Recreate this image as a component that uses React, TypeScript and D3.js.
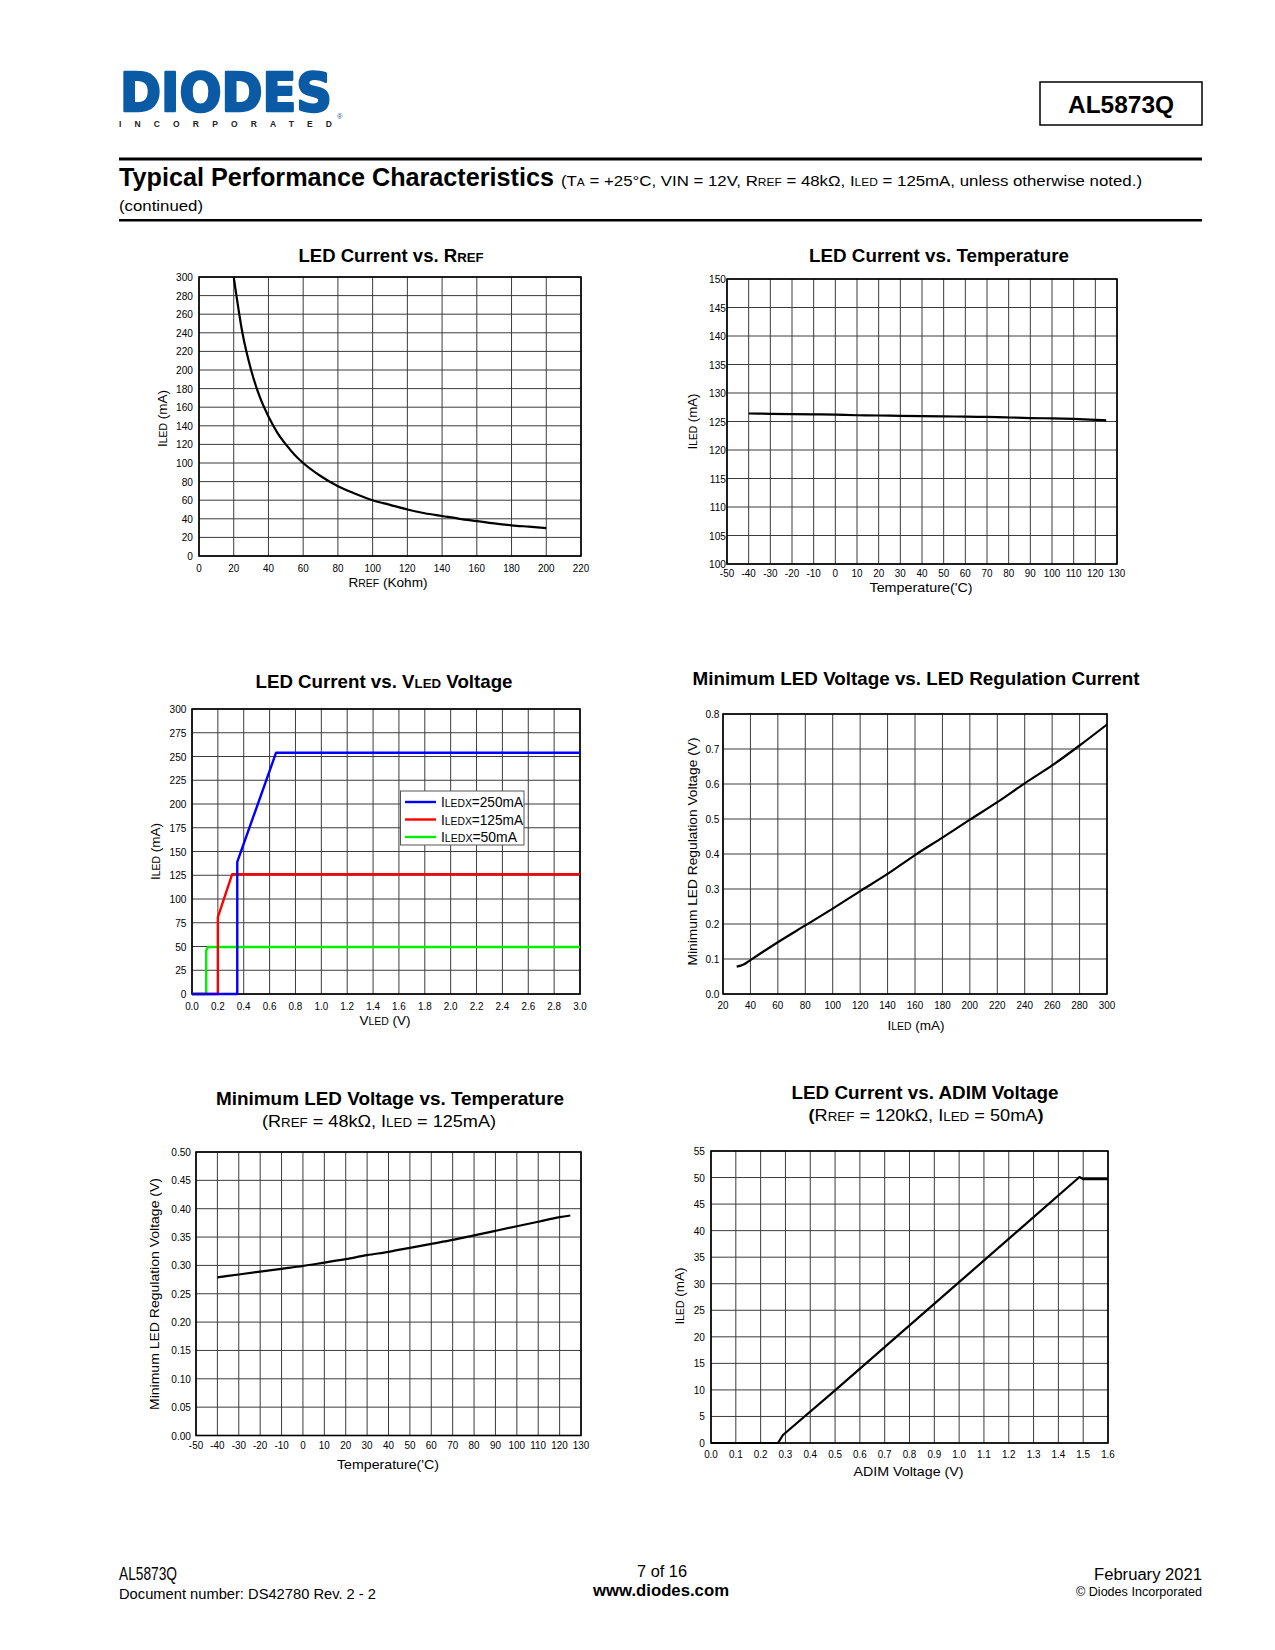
import * as d3 from "d3";

const FONT = "'Liberation Sans', Arial, Helvetica, sans-serif";

// LED Current vs. RREF
const rrefKohm = [20, 25, 30, 35, 40, 45, 50, 55, 60, 70, 80, 90, 100, 110, 120, 130, 140, 150, 160, 170, 180, 190, 200];
const rrefCurrent = [300, 240, 200, 171, 150, 133, 120, 109, 100, 86, 75, 67, 60, 55, 50, 46, 43, 40, 37.5, 35, 33, 31.5, 30];
const rrefXTicks = [0, 20, 40, 60, 80, 100, 120, 140, 160, 180, 200, 220];
const rrefYTicks = [0, 20, 40, 60, 80, 100, 120, 140, 160, 180, 200, 220, 240, 260, 280, 300];

// LED Current vs. Temperature
const tempC = [-40, -30, -20, -10, 0, 10, 20, 30, 40, 50, 60, 70, 80, 90, 100, 110, 120, 125];
const tempCurrent = [126.4, 126.35, 126.3, 126.25, 126.2, 126.1, 126.05, 126.0, 125.95, 125.9, 125.85, 125.8, 125.7, 125.6, 125.55, 125.45, 125.3, 125.2];
const tempXTicks = [-50, -40, -30, -20, -10, 0, 10, 20, 30, 40, 50, 60, 70, 80, 90, 100, 110, 120, 130];
const tempYTicks = [100, 105, 110, 115, 120, 125, 130, 135, 140, 145, 150];

// LED Current vs. VLED Voltage
const vled250V = [0, 0.35, 0.35, 0.65, 3.0];
const vled250I = [0, 0, 139, 254, 254];
const vled125V = [0, 0.2, 0.2, 0.31, 3.0];
const vled125I = [0, 0, 81, 126, 126];
const vled50V = [0, 0.11, 0.11, 0.125, 3.0];
const vled50I = [0, 0, 46, 49.5, 49.5];
const vledXTicks = [0, 0.2, 0.4, 0.6, 0.8, 1.0, 1.2, 1.4, 1.6, 1.8, 2.0, 2.2, 2.4, 2.6, 2.8, 3.0];
const vledYTicks = [0, 25, 50, 75, 100, 125, 150, 175, 200, 225, 250, 275, 300];
const vledLegend = ["250mA", "125mA", "50mA"];
const vledLegendW = [82, 82, 76];
const vledColors = ["#0000ff", "#ff0000", "#00ee00"];

// Minimum LED Voltage vs. LED Regulation Current
const regCurrent = [30, 35, 40, 60, 80, 100, 120, 140, 160, 180, 200, 220, 240, 260, 280, 300];
const regVoltage = [0.078, 0.084, 0.097, 0.148, 0.196, 0.244, 0.294, 0.343, 0.397, 0.447, 0.498, 0.548, 0.602, 0.653, 0.71, 0.77];
const regXTicks = [20, 40, 60, 80, 100, 120, 140, 160, 180, 200, 220, 240, 260, 280, 300];
const regYTicks = [0, 0.1, 0.2, 0.3, 0.4, 0.5, 0.6, 0.7, 0.8];

// Minimum LED Voltage vs. Temperature
const vminTemp = [-40, -30, -20, -10, 0, 10, 20, 30, 40, 50, 60, 70, 80, 90, 100, 110, 120, 125];
const vminVoltage = [0.279, 0.284, 0.289, 0.294, 0.299, 0.305, 0.311, 0.318, 0.324, 0.331, 0.338, 0.345, 0.353, 0.361, 0.369, 0.377, 0.385, 0.388];
const vminYTicks = [0, 0.05, 0.1, 0.15, 0.2, 0.25, 0.3, 0.35, 0.4, 0.45, 0.5];

// LED Current vs. ADIM Voltage
const adimV = [0, 0.27, 0.29, 0.5, 1.0, 1.485, 1.5, 1.6];
const adimI = [0, 0, 1.5, 9.9, 30.3, 50.1, 49.7, 49.7];
const adimXTicks = [0, 0.1, 0.2, 0.3, 0.4, 0.5, 0.6, 0.7, 0.8, 0.9, 1.0, 1.1, 1.2, 1.3, 1.4, 1.5, 1.6];
const adimYTicks = [0, 5, 10, 15, 20, 25, 30, 35, 40, 45, 50, 55];

type Box = { l: number; t: number; r: number; b: number };
type Series = { x: number[]; y: number[]; color: string; width?: number; curve?: d3.CurveFactory };

function Plot(props: {
  box: Box;
  xDomain: [number, number];
  yDomain: [number, number];
  xTicks: number[];
  yTicks: number[];
  xFmt: (v: number) => string;
  yFmt: (v: number) => string;
  series: Series[];
  yGap: number;
  xDy: number;
}) {
  const { box, xDomain, yDomain, xTicks, yTicks, xFmt, yFmt, series, yGap, xDy } = props;
  const x = d3.scaleLinear().domain(xDomain).range([box.l, box.r]);
  const y = d3.scaleLinear().domain(yDomain).range([box.b, box.t]);
  return (
    <g>
      {xTicks.map((v) => (
        <line key={"gx" + v} x1={x(v)} x2={x(v)} y1={box.t} y2={box.b} stroke="#3c3c3c" strokeWidth={1} />
      ))}
      {yTicks.map((v) => (
        <line key={"gy" + v} x1={box.l} x2={box.r} y1={y(v)} y2={y(v)} stroke="#3c3c3c" strokeWidth={1} />
      ))}
      <rect x={box.l} y={box.t} width={box.r - box.l} height={box.b - box.t} fill="none" stroke="#000" strokeWidth={1.6} />
      {series.map((s, i) => {
        const pts = s.x.map((xv, j) => [xv, s.y[j]] as [number, number]);
        const line = d3
          .line<[number, number]>()
          .x((d) => x(d[0]))
          .y((d) => y(d[1]))
          .curve(s.curve ?? d3.curveLinear);
        return <path key={i} d={line(pts) ?? ""} fill="none" stroke={s.color} strokeWidth={s.width ?? 2.2} strokeLinejoin="round" />;
      })}
      {yTicks.map((v) => (
        <text key={"ty" + v} transform={`translate(${box.l - yGap},${y(v) + 4}) scale(0.88,1)`} fontSize={11.5} textAnchor="end">
          {yFmt(v)}
        </text>
      ))}
      {xTicks.map((v) => (
        <text key={"tx" + v} transform={`translate(${x(v)},${box.b + xDy}) scale(0.86,1)`} fontSize={11.5} textAnchor="middle">
          {xFmt(v)}
        </text>
      ))}
    </g>
  );
}

function Fit(props: {
  x: number;
  y: number;
  w: number;
  size: number;
  anchor?: "start" | "middle" | "end";
  bold?: boolean;
  rot?: boolean;
  fill?: string;
  children: React.ReactNode;
}) {
  const { x, y, w, size, anchor = "middle", bold = false, rot = false, fill = "#000", children } = props;
  return (
    <text
      x={rot ? 0 : x}
      y={rot ? 0 : y}
      transform={rot ? `translate(${x},${y}) rotate(-90)` : undefined}
      fontSize={size}
      fontWeight={bold ? "bold" : "normal"}
      textAnchor={anchor}
      textLength={w}
      lengthAdjust="spacingAndGlyphs"
      fill={fill}
    >
      {children}
    </text>
  );
}

const sub = (s: string, size: number) => <tspan fontSize={size}>{s}</tspan>;

const f0 = (v: number) => String(v);
const f1 = (v: number) => v.toFixed(1);
const f2 = (v: number) => v.toFixed(2);

export default function App() {
  const c1: Box = { l: 199, t: 277, r: 581, b: 556 };
  const c2: Box = { l: 727, t: 279, r: 1117, b: 564 };
  const c3: Box = { l: 192, t: 709, r: 580, b: 994 };
  const c4: Box = { l: 723, t: 714, r: 1107, b: 994 };
  const c5: Box = { l: 196, t: 1152, r: 581, b: 1435.5 };
  const c6: Box = { l: 711, t: 1151, r: 1108, b: 1443 };

  const vledSeries = [
    { x: vled50V, y: vled50I, color: vledColors[2], width: 2.4 },
    { x: vled125V, y: vled125I, color: vledColors[1], width: 2.4 },
    { x: vled250V, y: vled250I, color: vledColors[0], width: 2.4 },
  ];

  return (
    <svg
      width={1275}
      height={1650}
      style={{ position: "absolute", left: 0, top: 0, background: "#fff" }}
      fontFamily={FONT}
    >
      <rect x={0} y={0} width={1275} height={1650} fill="#fff" />

      {/* header */}
      <text x={120} y={111} fontFamily="'DejaVu Sans', sans-serif" fontWeight="bold" fontSize={54} fill="#0b5aa5"
        stroke="#0b5aa5" strokeWidth={2.6} strokeLinejoin="round" textLength={212} lengthAdjust="spacingAndGlyphs">
        DIODES
      </text>
      <text x={337} y={119} fontSize={7.5} fill="#0b5aa5">®</text>
      <text x={119} y={127} fontSize={8.5} fontWeight="bold" fill="#222" textLength={213} lengthAdjust="spacing">
        INCORPORATED
      </text>
      <rect x={1040} y={82} width={162} height={43} fill="none" stroke="#000" strokeWidth={1.5} />
      <Fit x={1121} y={113} w={106} size={23} bold>AL5873Q</Fit>

      <rect x={119} y={157.5} width={1083} height={3} fill="#000" />
      <Fit x={119} y={185.5} w={435} size={25} anchor="start" bold>Typical Performance Characteristics</Fit>
      <Fit x={561} y={185.5} w={581} size={15.5} anchor="start">
        (T{sub("A", 11)} = +25°C, VIN = 12V, R{sub("REF", 11)} = 48kΩ, I{sub("LED", 11)} = 125mA, unless otherwise noted.)
      </Fit>
      <Fit x={119} y={211} w={84} size={15} anchor="start">(continued)</Fit>
      <rect x={119} y={219} width={1083} height={2.5} fill="#000" />

      {/* chart 1 */}
      <Fit x={391} y={262} w={185} size={19} bold>LED Current vs. R{sub("REF", 13.5)}</Fit>
      <Plot box={c1} xDomain={[0, 220]} yDomain={[0, 300]} xTicks={rrefXTicks} yTicks={rrefYTicks} xFmt={f0} yFmt={f0} yGap={6} xDy={16}
        series={[{ x: rrefKohm, y: rrefCurrent, color: "#000", curve: d3.curveMonotoneX }]} />
      <Fit x={167} y={418.5} w={57} size={13} rot>I{sub("LED", 10)} (mA)</Fit>
      <Fit x={388} y={587} w={79} size={13}>R{sub("REF", 10)} (Kohm)</Fit>

      {/* chart 2 */}
      <Fit x={939} y={262} w={260} size={19} bold>LED Current vs. Temperature</Fit>
      <Plot box={c2} xDomain={[-50, 130]} yDomain={[100, 150]} xTicks={tempXTicks} yTicks={tempYTicks} xFmt={f0} yFmt={f0} yGap={1} xDy={12.5}
        series={[{ x: tempC, y: tempCurrent, color: "#000", curve: d3.curveMonotoneX }]} />
      <Fit x={697} y={421.5} w={56} size={13} rot>I{sub("LED", 10)} (mA)</Fit>
      <Fit x={921} y={592} w={103} size={13}>Temperature('C)</Fit>

      {/* chart 3 */}
      <Fit x={384} y={688} w={257} size={19} bold>LED Current vs. V{sub("LED", 13.5)} Voltage</Fit>
      <Plot box={c3} xDomain={[0, 3]} yDomain={[0, 300]} xTicks={vledXTicks} yTicks={vledYTicks} xFmt={f1} yFmt={f0} yGap={5.5} xDy={16}
        series={vledSeries} />
      <rect x={400.5} y={791} width={123.5} height={54} fill="#fff" stroke="#555" strokeWidth={1} />
      {vledLegend.map((lab, i) => (
        <g key={lab}>
          <line x1={405} x2={436} y1={802 + i * 17.5} y2={802 + i * 17.5} stroke={vledColors[i]} strokeWidth={2.4} />
          <Fit x={441} y={807 + i * 17.5} w={vledLegendW[i]} size={14.5} anchor="start">
            I{sub("LEDX", 11)}={lab}
          </Fit>
        </g>
      ))}
      <Fit x={160} y={851.5} w={57} size={13} rot>I{sub("LED", 10)} (mA)</Fit>
      <Fit x={385} y={1024.5} w={51} size={13}>V{sub("LED", 10)} (V)</Fit>

      {/* chart 4 */}
      <Fit x={916} y={685} w={447} size={19} bold>Minimum LED Voltage vs. LED Regulation Current</Fit>
      <Plot box={c4} xDomain={[20, 300]} yDomain={[0, 0.8]} xTicks={regXTicks} yTicks={regYTicks} xFmt={f0} yFmt={f1} yGap={3.5} xDy={15}
        series={[{ x: regCurrent, y: regVoltage, color: "#000", curve: d3.curveMonotoneX }]} />
      <Fit x={697} y={851.5} w={228} size={13} rot>Minimum LED Regulation Voltage (V)</Fit>
      <Fit x={916} y={1030} w={57} size={13}>I{sub("LED", 10)} (mA)</Fit>

      {/* chart 5 */}
      <Fit x={390} y={1105} w={348} size={19} bold>Minimum LED Voltage vs. Temperature</Fit>
      <Fit x={379} y={1127} w={234} size={17}>(R{sub("REF", 12.5)} = 48kΩ, I{sub("LED", 12.5)} = 125mA)</Fit>
      <Plot box={c5} xDomain={[-50, 130]} yDomain={[0, 0.5]} xTicks={tempXTicks} yTicks={vminYTicks} xFmt={f0} yFmt={f2} yGap={5} xDy={13.5}
        series={[{ x: vminTemp, y: vminVoltage, color: "#000", curve: d3.curveMonotoneX }]} />
      <Fit x={159} y={1294} w={232} size={13} rot>Minimum LED Regulation Voltage (V)</Fit>
      <Fit x={388} y={1469} w={102} size={13}>Temperature('C)</Fit>

      {/* chart 6 */}
      <Fit x={925} y={1099} w={267} size={19} bold>LED Current vs. ADIM Voltage</Fit>
      <Fit x={926} y={1121} w={235} size={17}>
        <tspan fontWeight="bold">(</tspan>R{sub("REF", 12.5)} = 120kΩ, I{sub("LED", 12.5)} = 50mA<tspan fontWeight="bold">)</tspan>
      </Fit>
      <Plot box={c6} xDomain={[0, 1.6]} yDomain={[0, 55]} xTicks={adimXTicks} yTicks={adimYTicks} xFmt={f1} yFmt={f0} yGap={6} xDy={15}
        series={[{ x: adimV, y: adimI, color: "#000" }]} />
      <Fit x={684} y={1296} w={57} size={13} rot>I{sub("LED", 10)} (mA)</Fit>
      <Fit x={908.5} y={1475.5} w={110} size={13}>ADIM Voltage (V)</Fit>

      {/* footer */}
      <Fit x={119} y={1580} w={58} size={18.5} anchor="start">AL5873Q</Fit>
      <Fit x={119} y={1599} w={257} size={14} anchor="start">Document number: DS42780 Rev. 2 - 2</Fit>
      <Fit x={662} y={1577} w={50} size={16}>7 of 16</Fit>
      <Fit x={661} y={1596} w={136} size={16} bold>www.diodes.com</Fit>
      <Fit x={1202} y={1580} w={108} size={16} anchor="end">February 2021</Fit>
      <Fit x={1202} y={1596} w={126} size={12} anchor="end">© Diodes Incorporated</Fit>
    </svg>
  );
}
